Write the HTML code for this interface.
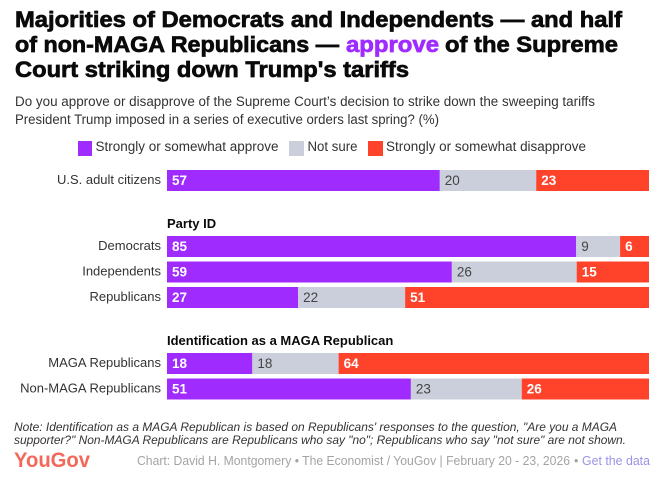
<!DOCTYPE html>
<html lang="en">
<head>
<meta charset="utf-8">
<title>Supreme Court tariffs approval</title>
<style>
html,body{margin:0;padding:0;background:#fff;}
svg{display:block;font-family:"Liberation Sans",Arial,sans-serif;}
</style>
</head>
<body>
<svg id="chart" xmlns="http://www.w3.org/2000/svg" width="663" height="483" viewBox="0 0 663 483">
  <rect x="0" y="0" width="663" height="483" fill="#ffffff"/>
  <g font-size="22.5" font-weight="700" fill="#0a0a0a" stroke="#0a0a0a" stroke-width="0.7">
    <text x="15" y="27" textLength="607" lengthAdjust="spacingAndGlyphs">Majorities of Democrats and Independents — and half</text>
    <text x="15" y="52" textLength="324" lengthAdjust="spacingAndGlyphs">of non-MAGA Republicans —</text>
    <text x="346" y="52" textLength="93" lengthAdjust="spacingAndGlyphs" fill="#a02bff" stroke="#a02bff">approve</text>
    <text x="445" y="52" textLength="173" lengthAdjust="spacingAndGlyphs">of the Supreme</text>
    <text x="15" y="77" textLength="394" lengthAdjust="spacingAndGlyphs">Court striking down Trump's tariffs</text>
  </g>
  <g font-size="13.5" fill="#333333">
    <text x="15" y="106" textLength="580" lengthAdjust="spacingAndGlyphs">Do you approve or disapprove of the Supreme Court’s decision to strike down the sweeping tariffs</text>
    <text x="15" y="124" textLength="424" lengthAdjust="spacingAndGlyphs">President Trump imposed in a series of executive orders last spring? (%)</text>
  </g>
  <g font-size="13.5" fill="#333333">
    <rect x="78" y="141" width="14" height="15" fill="#a02bff"/>
    <text x="95.5" y="151" textLength="183" lengthAdjust="spacingAndGlyphs">Strongly or somewhat approve</text>
    <rect x="289" y="141" width="15" height="15" fill="#cbcfdb"/>
    <text x="307.5" y="151" textLength="50" lengthAdjust="spacingAndGlyphs">Not sure</text>
    <rect x="368" y="141" width="15" height="15" fill="#ff432b"/>
    <text x="386" y="151" textLength="200" lengthAdjust="spacingAndGlyphs">Strongly or somewhat disapprove</text>
  </g>
  <g id="plot"></g>
  <g font-size="12.2" font-style="italic" fill="#333333">
    <text x="14" y="431" textLength="603" lengthAdjust="spacingAndGlyphs">Note: Identification as a MAGA Republican is based on Republicans' responses to the question, "Are you a MAGA</text>
    <text x="14" y="444" textLength="612" lengthAdjust="spacingAndGlyphs">supporter?" Non-MAGA Republicans are Republicans who say "no"; Republicans who say "not sure" are not shown.</text>
  </g>
  <text x="14" y="467" font-size="21" font-weight="700" fill="#f2695b" textLength="76" lengthAdjust="spacingAndGlyphs">YouGov</text>
  <g font-size="12.5" fill="#a3a3a3">
    <text x="137" y="465" textLength="433" lengthAdjust="spacingAndGlyphs">Chart: David H. Montgomery • The Economist / YouGov | February 20 - 23, 2026</text>
    <text x="574" y="465">•</text>
    <text x="582" y="465" textLength="68" lengthAdjust="spacingAndGlyphs" fill="#9a94e6">Get the data</text>
  </g>
</svg>
<script>
const categories = ['U.S. adult citizens', 'Democrats', 'Independents', 'Republicans', 'MAGA Republicans', 'Non-MAGA Republicans'];
const groupOfRow = [0, 1, 1, 1, 2, 2];
const groupTitles = ['', 'Party ID', 'Identification as a MAGA Republican'];
const approve = [56.6, 84.9, 59.1, 27.2, 17.7, 50.6];
const notSure = [20.0, 9.1, 25.9, 22.2, 17.9, 23.0];
const disapprove = [23.4, 6.0, 15.0, 50.6, 64.4, 26.4];

const NS = 'http://www.w3.org/2000/svg';
const plot = document.getElementById('plot');
const xLeft = 167, xRight = 649, barH = 21;
function xScale(v) { return xLeft + (v / 100) * (xRight - xLeft); }
function rowTop(i) { return 170 + 25.5 * i + 40.5 * groupOfRow[i]; }
function make(tag, attrs, text) {
  const el = document.createElementNS(NS, tag);
  Object.keys(attrs).forEach(function (k) { el.setAttribute(k, attrs[k]); });
  if (text !== undefined) el.textContent = text;
  return el;
}
const series = [
  { values: approve, fill: '#a02bff', ink: '#ffffff', weight: 700 },
  { values: notSure, fill: '#cbcfdb', ink: '#444444', weight: 400 },
  { values: disapprove, fill: '#ff432b', ink: '#ffffff', weight: 700 }
];
groupTitles.forEach(function (title, g) {
  if (!title) return;
  const first = groupOfRow.indexOf(g);
  const t = make('text', { x: xLeft, y: rowTop(first) - 8, 'font-size': 13, 'font-weight': 700, fill: '#0a0a0a' }, title);
  
  
  plot.appendChild(t);
});
categories.forEach(function (cat, i) {
  const top = rowTop(i);
  const label = make('text', { x: xLeft - 6, y: top + 14, 'text-anchor': 'end', 'font-size': 13, fill: '#333333' }, cat);
  
  
  plot.appendChild(label);
  let cum = 0;
  series.forEach(function (s) {
    const v = s.values[i];
    const x0 = xScale(cum), x1 = xScale(cum + v);
    const r = make('rect', { x: x0, y: top, width: x1 - x0, height: barH, fill: s.fill });
    
    
    plot.appendChild(r);
    const t = make('text', { x: x0 + 5, y: top + 15, 'font-size': 13.5, 'font-weight': s.weight, fill: s.ink }, String(Math.round(v)));
    
    
    plot.appendChild(t);
    cum += v;
  });
});
</script>
</body>
</html>
